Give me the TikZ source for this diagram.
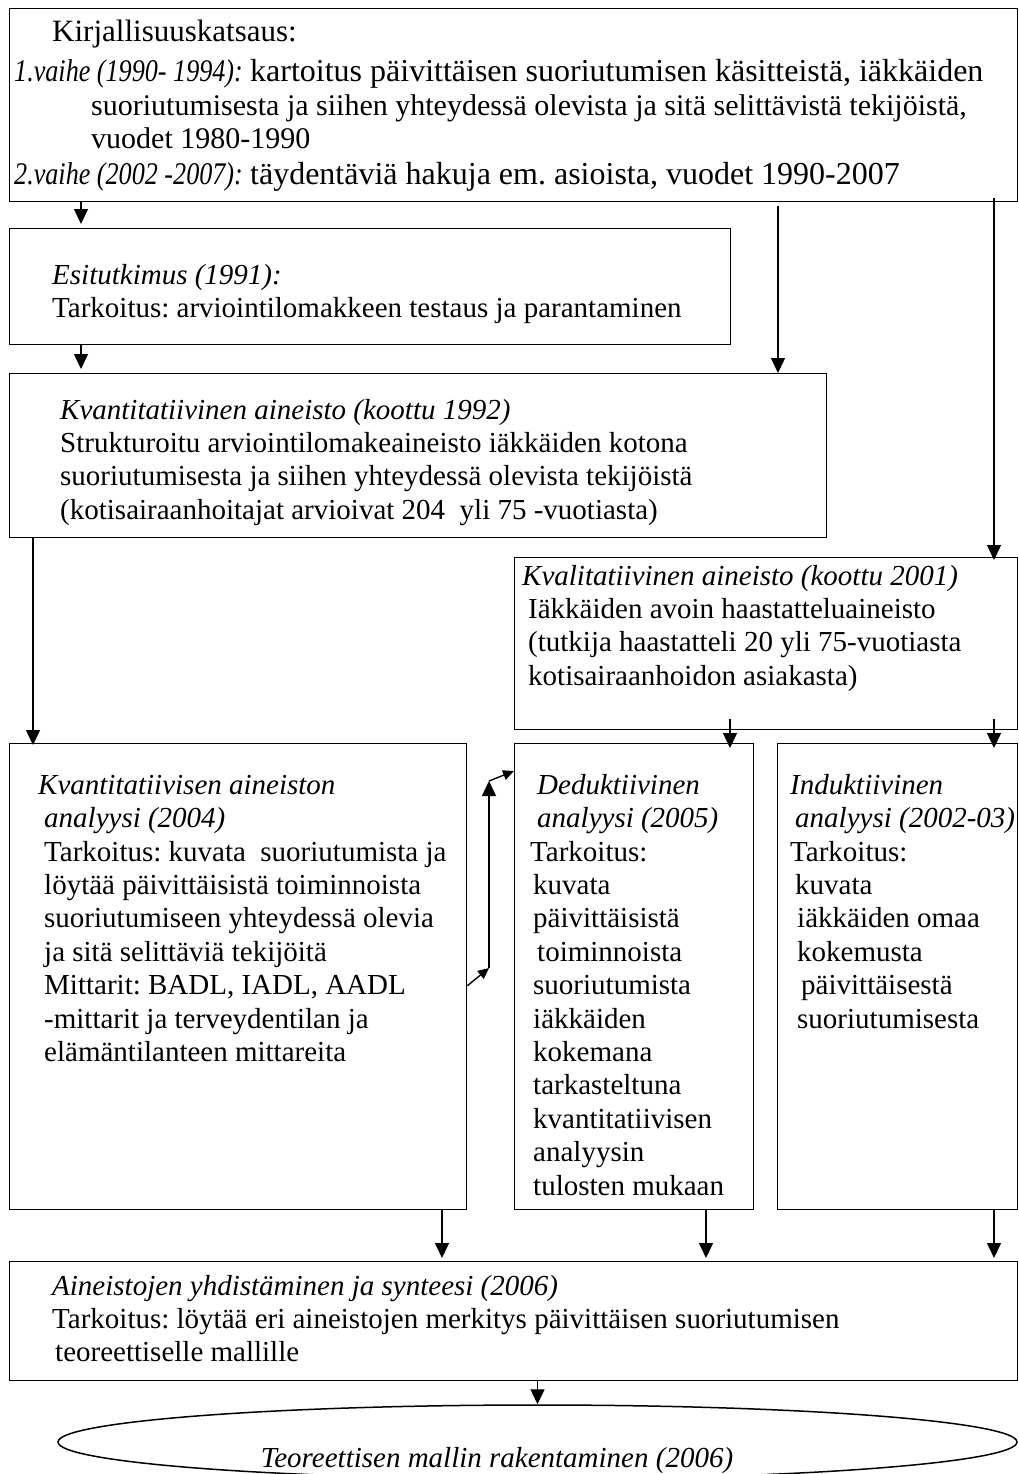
\documentclass[tikz,border=0pt]{standalone}
\usepackage{fontspec}
\setmainfont{Liberation Serif}
\newfontfamily\narrowfam{Liberation Serif}[FakeStretch=0.83]
\usetikzlibrary{arrows.meta,calc,shapes.geometric}
\frenchspacing
\tikzset{
  box/.style={draw, line width=1.4pt, inner sep=0pt, anchor=north west},
  txt/.style={anchor=base west, inner sep=0pt,
    font=\fontsize{29}{33.4}\selectfont},
  arr/.style={line width=1.4pt, -{Triangle[length=15pt,width=14pt]}},
  sarr/.style={line width=1.4pt, -{Triangle[length=11pt,width=10pt]}},
}
\newcommand{\fsz}[1]{\fontsize{#1}{33.4}\selectfont}
\newcommand{\topit}[1]{{\narrowfam\itshape\fsz{31.5}#1}}
\newcommand{\textlines}[1]{\begin{tabular}[t]{@{}l@{}}#1\end{tabular}}
\begin{document}
\begin{tikzpicture}[x=1pt,y=-1pt]
\useasboundingbox (0,0) rectangle (1019,1474);

% boxes
\node[box, minimum width=1008, minimum height=193] (lit) at (9,8) {};
\node[box, minimum width=721, minimum height=116] (esi) at (9,228) {};
\node[box, minimum width=817, minimum height=164] (kvant) at (9,373) {};
\node[box, minimum width=503, minimum height=172] (kval) at (514,557) {};
\node[box, minimum width=457, minimum height=466] (ana) at (9,743) {};
\node[box, minimum width=239, minimum height=466] (ded) at (514,743) {};
\node[box, minimum width=240, minimum height=466] (ind) at (777,743) {};
\node[box, minimum width=1008, minimum height=119] (syn) at (9,1261) {};
\node[draw, ellipse, line width=1.5pt, inner sep=0pt,
      minimum width=959, minimum height=74] (ell) at (537.5,1442) {};

% texts
\node[txt] (litT) at (14,42)
 {\textlines{\hspace*{38pt}\fsz{31}Kirjallisuuskatsaus:\\[6.6pt]
  \topit{1.vaihe (1990- 1994):} \fsz{32}kartoitus päivittäisen suoriutumisen käsitteistä, iäkkäiden\\
  \hspace*{77pt}\fsz{30}suoriutumisesta ja siihen yhteydessä olevista ja sitä selittävistä tekijöistä,\\
  \hspace*{77pt}\fsz{30}vuodet 1980-1990\\[2.8pt]
  \topit{2.vaihe (2002 -2007):} \fsz{32}täydentäviä hakuja em. asioista, vuodet 1990-2007}};

\node[txt] (esiT) at (52,284)
 {\textlines{\textit{Esitutkimus (1991):}\\
  Tarkoitus: arviointilomakkeen testaus ja parantaminen}};

\node[txt] (kvantT) at (60,419)
 {\textlines{\textit{Kvantitatiivinen aineisto (koottu 1992)}\\
  Strukturoitu arviointilomakeaineisto iäkkäiden kotona\\
  suoriutumisesta ja siihen yhteydessä olevista tekijöistä\\
  (kotisairaanhoitajat arvioivat 204~ yli 75 -vuotiasta)}};

\node[txt] (kvalT) at (522,585)
 {\textlines{\textit{Kvalitatiivinen aineisto (koottu 2001)}\\
  \hspace*{6pt}Iäkkäiden avoin haastatteluaineisto\\
  \hspace*{6pt}(tutkija haastatteli 20 yli 75-vuotiasta\\
  \hspace*{6pt}kotisairaanhoidon asiakasta)}};

\node[txt] (anaT) at (38,794.2)
 {\textlines{\textit{Kvantitatiivisen aineiston}\\
  \hspace*{6pt}\textit{analyysi (2004)}\\
  \hspace*{6pt}Tarkoitus: kuvata~ suoriutumista ja\\
  \hspace*{6pt}löytää päivittäisistä toiminnoista\\
  \hspace*{6pt}suoriutumiseen yhteydessä olevia\\
  \hspace*{6pt}ja sitä selittäviä tekijöitä\\
  \hspace*{6pt}Mittarit: BADL, IADL, AADL\\
  \hspace*{6pt}-mittarit ja terveydentilan ja\\
  \hspace*{6pt}elämäntilanteen mittareita}};

\node[txt] (dedT) at (530,794.2)
 {\textlines{\hspace*{7pt}\textit{Deduktiivinen}\\
  \hspace*{7pt}\textit{analyysi (2005)}\\
  Tarkoitus:\\
  \hspace*{3pt}kuvata\\
  \hspace*{3pt}päivittäisistä\\
  \hspace*{7pt}toiminnoista\\
  \hspace*{3pt}suoriutumista\\
  \hspace*{3pt}iäkkäiden\\
  \hspace*{3pt}kokemana\\
  \hspace*{3pt}tarkasteltuna\\
  \hspace*{3pt}kvantitatiivisen\\
  \hspace*{3pt}analyysin\\
  \hspace*{3pt}tulosten mukaan}};

\node[txt] (indT) at (790,794.2)
 {\textlines{\textit{Induktiivinen}\\
  \hspace*{5pt}\textit{analyysi (2002-03)}\\
  Tarkoitus:\\
  \hspace*{5pt}kuvata\\
  \hspace*{7pt}iäkkäiden omaa\\
  \hspace*{7pt}kokemusta\\
  \hspace*{11pt}päivittäisestä\\
  \hspace*{7pt}suoriutumisesta}};

\node[txt] (synT) at (52,1295)
 {\textlines{\textit{Aineistojen yhdistäminen ja synteesi (2006)}\\
  Tarkoitus: löytää eri aineistojen merkitys päivittäisen suoriutumisen\\
  \hspace*{3pt}teoreettiselle mallille}};

\node[anchor=base, inner sep=0pt, font=\fontsize{29}{33.4}\selectfont] (ellT) at (497,1467)
 {\textit{Teoreettisen mallin rakentaminen (2006)}};

% x positions of connectors
\coordinate (xa) at (81,0);
\coordinate (xb) at (778,0);
\coordinate (xc) at (994,0);
\coordinate (xd) at (33,0);
\coordinate (xe) at (730,0);
\coordinate (xf) at (442,0);
\coordinate (xg) at (706,0);
\coordinate (xh) at (537.5,0);
\coordinate (dbl1) at (489,968);
\coordinate (dbl2) at (489,781);

% connectors
\draw[arr] (lit.south -| xa) -- ($(esi.north -| xa)+(0,-4)$);
\draw[arr] (esi.south -| xa) -- ($(kvant.north -| xa)+(0,-4)$);
\draw[arr] ($(lit.south -| xb)+(0,4)$) -- (kvant.north -| xb);
\draw[arr] ($(lit.south -| xc)+(0,-4)$) -- ($(kval.north -| xc)+(0,3)$);
\draw[arr] (kvant.south -| xd) -- ($(ana.north -| xd)+(0,2)$);
\draw[arr] ($(kval.south -| xe)+(0,-11)$) -- ($(ded.north -| xe)+(0,5)$);
\draw[arr] ($(kval.south -| xc)+(0,-11)$) -- ($(ind.north -| xc)+(0,5)$);
\draw[arr] (ana.south -| xf) -- ($(syn.north -| xf)+(0,-3)$);
\draw[arr] (ded.south -| xg) -- ($(syn.north -| xg)+(0,-3)$);
\draw[arr] (ind.south -| xc) -- ($(syn.north -| xc)+(0,-3)$);
\draw[arr] (syn.south -| xh) -- (ell.north);

% double arrow between analysis boxes
\draw[sarr] ($(ana.east)+(0,9)$) -- (dbl1);
\draw[arr] (dbl1) -- (dbl2);
\draw[sarr] (dbl2) -- ($(ded.north west)+(0,28)$);
\end{tikzpicture}
\end{document}
